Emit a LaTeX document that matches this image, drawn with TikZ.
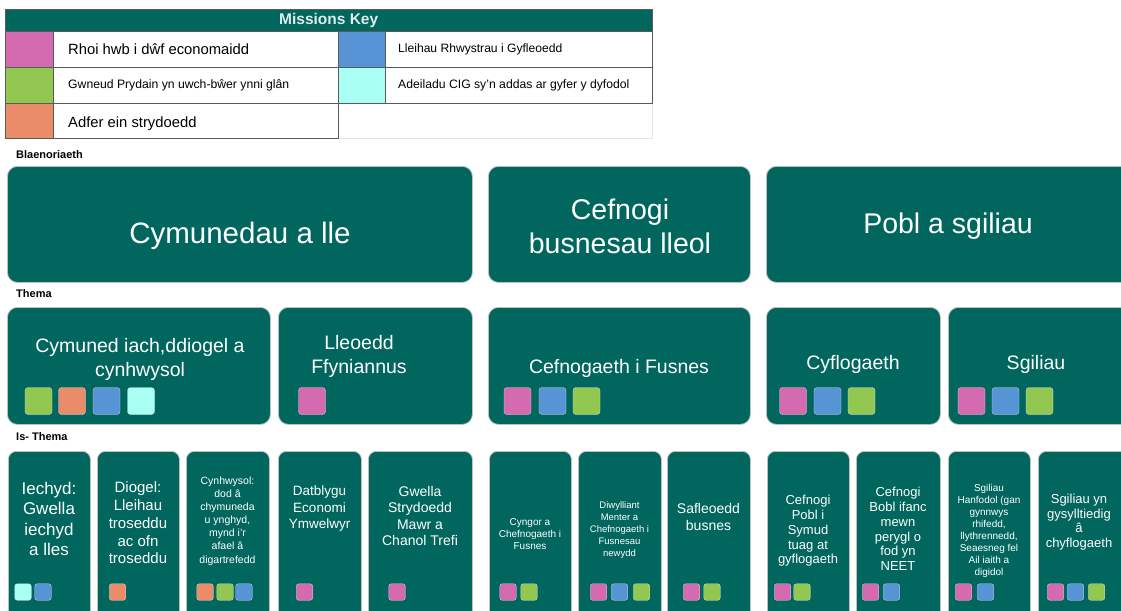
\documentclass[tikz,border=0pt]{standalone}
\usepackage{fontspec}
\setmainfont{Liberation Sans}
\definecolor{teal0}{RGB}{0,102,94}
\definecolor{mpink}{RGB}{212,106,176}
\definecolor{mgreen}{RGB}{146,200,82}
\definecolor{morange}{RGB}{234,140,106}
\definecolor{mblue}{RGB}{86,148,214}
\definecolor{mcyan}{RGB}{170,255,245}
\definecolor{keyline}{RGB}{90,90,90}
\newcommand{\fs}[2]{\fontsize{#1}{#2}\selectfont}
\tikzset{
  bigbox/.style={fill=teal0, draw=black!25, line width=0.8pt, rounded corners=10pt, anchor=north west, inner sep=0pt},
  subbox/.style={fill=teal0, draw=black!25, line width=0.8pt, rounded corners=8pt, anchor=north west, inner sep=0pt},
  wtext/.style={text=white, align=center, inner sep=0pt},
  sqA/.style={rounded corners=3pt, minimum size=27pt, inner sep=0pt, draw=black!15, line width=0.3pt},
  sqB/.style={rounded corners=2.5pt, minimum size=16.5pt, inner sep=0pt, draw=black!15, line width=0.3pt},
  keycell/.style={anchor=north west, inner sep=0pt, minimum width=48pt, minimum height=36pt},
  keytext/.style={anchor=west, inner sep=0pt, text=black},
  rowlabel/.style={anchor=west, inner sep=0pt, font=\bfseries\fs{11}{13}}
}
\begin{document}
\begin{tikzpicture}[x=1pt,y=-1pt]
\clip (0,0) rectangle (1121,610);
\fill[white] (0,0) rectangle (1121,610);

% ---------- Missions key ----------
\node[anchor=north west, fill=teal0, minimum width=647pt, minimum height=21pt, inner sep=0pt] (kh) at (5,10) {};
\node[text=white!88!teal0, font=\bfseries\fs{15.5}{17}, inner sep=0pt] (khtext) at (kh.center) {Missions Key};
\node[keycell, fill=mpink] (k1c) at (5,31) {};
\node[keycell, fill=mgreen] (k2c) at (5,67) {};
\node[keycell, fill=morange, minimum height=35pt] (k3c) at (5,103) {};
\node[keycell, fill=mblue, minimum width=47pt] (k4c) at (338,31) {};
\node[keycell, fill=mcyan, minimum width=47pt] (k5c) at (338,67) {};
\node[keytext, font=\fs{14.8}{17}] (k1t) at (68,49) {Rhoi hwb i dŵf economaidd};
\node[keytext, font=\fs{12.2}{14}] (k2t) at (68,85) {Gwneud Prydain yn uwch-bŵer ynni glân};
\node[keytext, font=\fs{14.8}{17}] (k3t) at (68,124) {Adfer ein strydoedd};
\node[keytext, font=\fs{12.1}{14}] (k4t) at (398,49) {Lleihau Rhwystrau i Gyfleoedd};
\node[keytext, font=\fs{12.2}{14}] (k5t) at (398,85) {Adeiladu CIG sy’n addas ar gyfer y dyfodol};
\draw[black!10, line width=0.8pt] (338,103) rectangle (652,138);
\draw[keyline, line width=1pt] (5,10) -- (652,10) -- (652,103) -- (338,103) -- (338,138) -- (5,138) -- cycle;
\draw[keyline, line width=0.8pt] (5,67) -- (652,67) (5,103) -- (338,103) (53,31) -- (53,138) (338,31) -- (338,103) (385,31) -- (385,103) (5,31) -- (652,31);

% ---------- row labels ----------
\node[rowlabel] (lab1) at (16,155) {Blaenoriaeth};
\node[rowlabel] (lab2) at (16,294) {Thema};
\node[rowlabel] (lab3) at (16,437) {Is- Thema};

% ---------- Blaenoriaeth ----------
\node[bigbox, minimum width=465pt, minimum height=116pt] (p1) at (7,166) {};
\node[bigbox, minimum width=262pt, minimum height=116pt] (p2) at (488,166) {};
\node[bigbox, minimum width=370pt, minimum height=116pt] (p3) at (766,166) {};
\node[wtext, font=\fs{29.5}{34}] (p1t) at (240,236) {Cymunedau a lle};
\node[wtext, font=\fs{28.5}{34}] (p2t) at (620,226) {Cefnogi\\busnesau lleol};
\node[wtext, font=\fs{28.5}{34}] (p3t) at (948,226) {Pobl a sgiliau};

% ---------- Thema ----------
\node[bigbox, minimum width=263pt, minimum height=117pt] (t1) at (7,307) {};
\node[bigbox, minimum width=194pt, minimum height=117pt] (t2) at (278,307) {};
\node[bigbox, minimum width=262pt, minimum height=117pt] (t3) at (488,307) {};
\node[bigbox, minimum width=174pt, minimum height=117pt] (t4) at (766,307) {};
\node[bigbox, minimum width=190pt, minimum height=117pt] (t5) at (948,307) {};
\node[wtext, font=\fs{19.5}{24}] (t1t) at (140,359) {Cymuned iach,ddiogel a\\cynhwysol};
\node[wtext, font=\fs{19.5}{24}] (t2t) at (359,356) {Lleoedd\\Ffyniannus};
\node[wtext, font=\fs{19.5}{24}] (t3t) at (619,368) {Cefnogaeth i Fusnes};
\node[wtext, font=\fs{19.5}{24}] (t4t) at (853,364) {Cyflogaeth};
\node[wtext, font=\fs{19.5}{24}] (t5t) at (1036,364) {Sgiliau};
% squares
\node[sqA, fill=mgreen] (t1s1) at (38.5,401) {};
\node[sqA, fill=morange] (t1s2) at (72,401) {};
\node[sqA, fill=mblue] (t1s3) at (106.5,401) {};
\node[sqA, fill=mcyan] (t1s4) at (141,401) {};
\node[sqA, fill=mpink] (t2s1) at (312,401) {};
\node[sqA, fill=mpink] (t3s1) at (517.5,401) {};
\node[sqA, fill=mblue] (t3s2) at (552.5,401) {};
\node[sqA, fill=mgreen] (t3s3) at (586.5,401) {};
\node[sqA, fill=mpink] (t4s1) at (793,401) {};
\node[sqA, fill=mblue] (t4s2) at (827.5,401) {};
\node[sqA, fill=mgreen] (t4s3) at (861.5,401) {};
\node[sqA, fill=mpink] (t5s1) at (971.5,401) {};
\node[sqA, fill=mblue] (t5s2) at (1005.5,401) {};
\node[sqA, fill=mgreen] (t5s3) at (1039.5,401) {};

% ---------- Is-Thema ----------
\node[subbox, minimum width=82pt, minimum height=175pt] (s1) at (8,451) {};
\node[subbox, minimum width=82pt, minimum height=175pt] (s2) at (97,451) {};
\node[subbox, minimum width=83pt, minimum height=175pt] (s3) at (186,451) {};
\node[subbox, minimum width=83pt, minimum height=175pt] (s4) at (278,451) {};
\node[subbox, minimum width=104pt, minimum height=175pt] (s5) at (368,451) {};
\node[subbox, minimum width=82pt, minimum height=175pt] (s6) at (489,451) {};
\node[subbox, minimum width=83pt, minimum height=175pt] (s7) at (578,451) {};
\node[subbox, minimum width=83pt, minimum height=175pt] (s8) at (667,451) {};
\node[subbox, minimum width=82pt, minimum height=175pt] (s9) at (767,451) {};
\node[subbox, minimum width=84pt, minimum height=175pt] (s10) at (856,451) {};
\node[subbox, minimum width=82pt, minimum height=175pt] (s11) at (948,451) {};
\node[subbox, minimum width=90pt, minimum height=175pt] (s12) at (1038,451) {};

\node[wtext, font=\fs{17}{20.5}] (s1t) at (49,519) {Iechyd:\\Gwella\\iechyd\\a lles};
\node[wtext, font=\fs{15}{17.7}] (s2t) at (138,523) {Diogel:\\Lleihau\\troseddu\\ac ofn\\troseddu};
\node[wtext, font=\fs{10.5}{13.1}] (s3t) at (227.5,521) {Cynhwysol:\\dod â\\chymuneda\\u ynghyd,\\mynd i’r\\afael â\\digartrefedd};
\node[wtext, font=\fs{13.5}{16.5}] (s4t) at (319.5,509) {Datblygu\\Economi\\Ymwelwyr};
\node[wtext, font=\fs{14}{16.5}] (s5t) at (420,516) {Gwella\\Strydoedd\\Mawr a\\Chanol Trefi};
\node[wtext, font=\fs{10}{11.7}] (s6t) at (530,534) {Cyngor a\\Chefnogaeth i\\Fusnes};
\node[wtext, font=\fs{9.5}{11.8}] (s7t) at (619.5,530) {Diwylliant\\Menter a\\Chefnogaeth i\\Fusnesau\\newydd};
\node[wtext, font=\fs{14}{16.5}] (s8t) at (708.5,517) {Safleoedd\\busnes};
\node[wtext, font=\fs{13}{14.7}] (s9t) at (808,531) {Cefnogi\\Pobl i\\Symud\\tuag at\\gyflogaeth};
\node[wtext, font=\fs{13}{14.7}] (s10t) at (898,529) {Cefnogi\\Bobl ifanc\\mewn\\perygl o\\fod yn\\NEET};
\node[wtext, font=\fs{10}{12}] (s11t) at (989,531) {Sgiliau\\Hanfodol (gan\\gynnwys\\rhifedd,\\llythrennedd,\\Seaesneg fel\\Ail iaith a\\digidol};
\node[wtext, font=\fs{13}{14.7}] (s12t) at (1079,522) {Sgiliau yn\\gysylltiedig\\â\\chyflogaeth};

% small squares
\node[sqB, fill=mcyan] (s1a) at (23,592) {};
\node[sqB, fill=mblue] (s1b) at (43,592) {};
\node[sqB, fill=morange] (s2a) at (117.5,592) {};
\node[sqB, fill=morange] (s3a) at (205,592) {};
\node[sqB, fill=mgreen] (s3b) at (225,592) {};
\node[sqB, fill=mblue] (s3c) at (244,592) {};
\node[sqB, fill=mpink] (s4a) at (304.5,592) {};
\node[sqB, fill=mpink] (s5a) at (397,592) {};
\node[sqB, fill=mpink] (s6a) at (508,592) {};
\node[sqB, fill=mgreen] (s6b) at (529,592) {};
\node[sqB, fill=mpink] (s7a) at (598.5,592) {};
\node[sqB, fill=mblue] (s7b) at (619.5,592) {};
\node[sqB, fill=mgreen] (s7c) at (641.5,592) {};
\node[sqB, fill=mpink] (s8a) at (691.5,592) {};
\node[sqB, fill=mgreen] (s8b) at (712,592) {};
\node[sqB, fill=mpink] (s9a) at (782.5,592) {};
\node[sqB, fill=mgreen] (s9b) at (802,592) {};
\node[sqB, fill=mpink] (s10a) at (870.5,592) {};
\node[sqB, fill=mblue] (s10b) at (891.5,592) {};
\node[sqB, fill=mpink] (s11a) at (963.5,592) {};
\node[sqB, fill=mblue] (s11b) at (985.5,592) {};
\node[sqB, fill=mpink] (s12a) at (1055.5,592) {};
\node[sqB, fill=mblue] (s12b) at (1075.5,592) {};
\node[sqB, fill=mgreen] (s12c) at (1096.5,592) {};
\end{tikzpicture}
\end{document}
